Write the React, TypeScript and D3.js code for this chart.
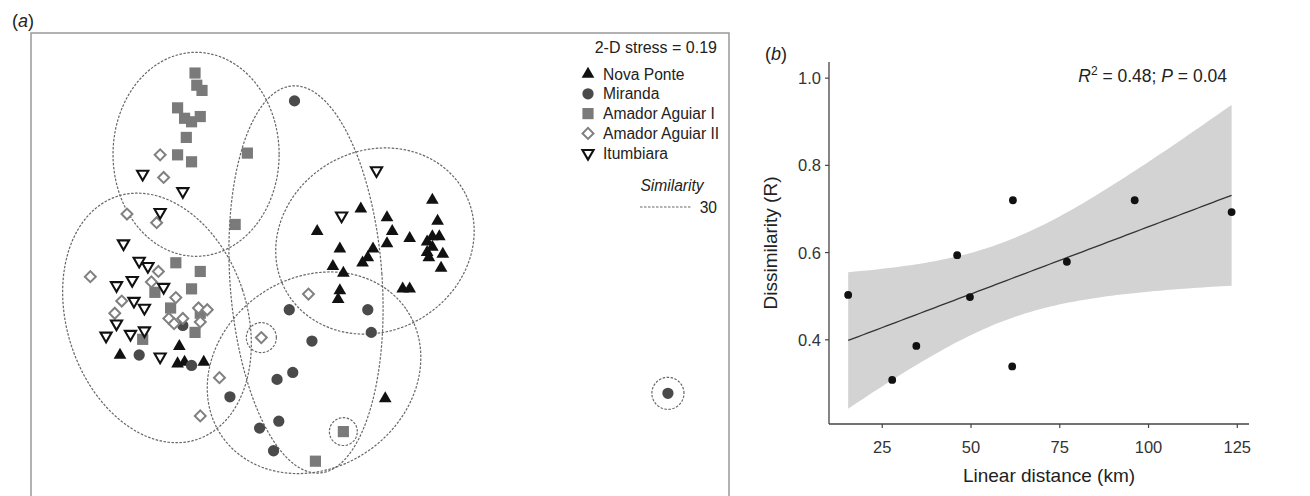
import React from "react";
import * as d3 from "d3";

// ---------- Panel (a): NMDS ordination (MDS1, MDS2) ----------
const novaPonte: [number, number][] = [
  [-1.49, -0.52], [-1.15, -0.47], [-1.16, -0.57], [-1.12, -0.56], [-1.01, -0.56],
  [0.30, 0.37], [-0.11, 0.32], [0.04, 0.27], [0.33, 0.25], [-0.36, 0.19],
  [0.07, 0.19], [0.17, 0.15], [0.30, 0.16], [0.34, 0.16], [0.27, 0.13],
  [0.30, 0.10], [0.27, 0.07], [0.28, 0.04], [0.36, 0.06], [0.04, 0.12],
  [-0.23, 0.09], [-0.04, 0.09], [-0.07, 0.04], [-0.10, 0.01], [0.35, -0.02],
  [-0.27, -0.01], [-0.21, -0.05], [0.13, -0.14], [0.17, -0.14], [-0.23, -0.15],
  [-0.24, -0.20], [0.03, -0.77],
];
const miranda: [number, number][] = [
  [-0.49, 0.94], [-1.13, -0.35], [-1.38, -0.52], [-1.08, -0.58], [-0.52, -0.26],
  [-0.07, -0.26], [-0.05, -0.39], [-0.39, -0.44], [-0.50, -0.62], [-0.59, -0.66],
  [-0.86, -0.76], [-0.58, -0.90], [-0.69, -0.94], [-0.61, -1.07], [1.65, -0.74],
];
const amadorAguiarI: [number, number][] = [
  [-1.06, 1.10], [-1.05, 1.03], [-1.02, 1.00], [-1.16, 0.90], [-1.12, 0.84],
  [-1.08, 0.82], [-1.03, 0.85], [-1.11, 0.73], [-1.16, 0.63], [-1.08, 0.59],
  [-0.76, 0.64], [-0.83, 0.23], [-1.17, 0.01], [-1.03, -0.04], [-1.29, -0.16],
  [-1.08, -0.14], [-1.20, -0.25], [-1.03, -0.28], [-1.06, -0.39], [-1.36, -0.43],
  [-0.21, -0.96], [-0.37, -1.13],
];
const amadorAguiarII: [number, number][] = [
  [-1.26, 0.63], [-1.24, 0.50], [-1.45, 0.29], [-1.28, 0.24], [-1.66, -0.07],
  [-1.27, -0.04], [-1.31, -0.10], [-1.48, -0.21], [-1.17, -0.19], [-1.52, -0.28],
  [-1.21, -0.31], [-1.18, -0.34], [-1.13, -0.31], [-1.04, -0.25], [-0.99, -0.26],
  [-1.03, -0.33], [-0.41, -0.17], [-0.68, -0.42], [-0.92, -0.65], [-1.03, -0.87],
];
const itumbiara: [number, number][] = [
  [-1.36, 0.52], [-1.13, 0.42], [-1.26, 0.30], [-1.47, 0.12], [-1.38, 0.02],
  [-1.33, -0.01], [-1.42, -0.09], [-1.51, -0.12], [-1.24, -0.13], [-1.41, -0.21],
  [-1.35, -0.25], [-1.51, -0.34], [-1.57, -0.41], [-1.43, -0.40], [-1.35, -0.38],
  [-1.26, -0.53], [-0.02, 0.54], [-0.22, 0.28],
];
// similarity 30% contours: centre, radii, angle (deg)
const contourCx = [-1.054, -0.424, -1.278, -0.029, -0.378, -0.68, -0.21, 1.65];
const contourCy = [0.633, -0.086, -0.307, 0.135, -0.622, -0.42, -0.96, -0.74];
const contourRx = [0.476, 0.436, 0.516, 0.585, 0.642, 0.086, 0.080, 0.092];
const contourRy = [0.586, 1.115, 0.735, 0.517, 0.546, 0.086, 0.080, 0.092];
const contourAngle = [0, 4, 18, 30, 35, 0, 0, 0];

const groupNames = ["Nova Ponte", "Miranda", "Amador Aguiar I", "Amador Aguiar II", "Itumbiara"];

// ---------- Panel (b): regression ----------
const distanceKm = [15.4, 27.8, 34.6, 46.1, 49.7, 61.6, 61.8, 77.0, 96.1, 123.4];
const dissimilarity = [0.503, 0.308, 0.386, 0.594, 0.498, 0.339, 0.72, 0.579, 0.72, 0.693];
const xTicksB = [25, 50, 75, 100, 125];
const yTicksB = [0.4, 0.6, 0.8, 1.0];

const FONT = "'Liberation Sans', Arial, Helvetica, sans-serif";

const xN = d3.scaleLinear().domain([-2, 2]).range([31, 729]);
const yN = d3.scaleLinear().domain([-1.33, 1.33]).range([496, 33]);

const xB = d3.scaleLinear().domain([10, 128.3]).range([829, 1249]);
const yB = d3.scaleLinear().domain([0.207, 1.037]).range([424, 62]);

type Style = { path: string; fill: string; stroke: string; sw: number; rot: number };
const symStyles: Style[] = [
  { path: d3.symbol(d3.symbolTriangle, 70)()!, fill: "#111", stroke: "none", sw: 0, rot: 0 },
  { path: d3.symbol(d3.symbolCircle, 100)()!, fill: "#4a4a4a", stroke: "none", sw: 0, rot: 0 },
  { path: d3.symbol(d3.symbolSquare, 125)()!, fill: "#7a7a7a", stroke: "none", sw: 0, rot: 0 },
  { path: d3.symbol(d3.symbolSquare, 60)()!, fill: "#fff", stroke: "#808080", sw: 2, rot: 45 },
  { path: d3.symbol(d3.symbolTriangle, 54)()!, fill: "#fff", stroke: "#111", sw: 2.1, rot: 180 },
];
const groups = [novaPonte, miranda, amadorAguiarI, amadorAguiarII, itumbiara];

function ellipsePath(i: number) {
  const a = (contourAngle[i] * Math.PI) / 180;
  const pts: [number, number][] = d3.range(0, 121).map((k) => {
    const t = (k / 120) * 2 * Math.PI;
    const lx = contourRx[i] * Math.cos(t);
    const ly = contourRy[i] * Math.sin(t);
    return [contourCx[i] + lx * Math.cos(a) - ly * Math.sin(a), contourCy[i] + lx * Math.sin(a) + ly * Math.cos(a)];
  });
  return d3.line<[number, number]>().x((p) => xN(p[0])).y((p) => yN(p[1]))(pts)!;
}

// regression fit and 95% CI (as geom_smooth lm)
const n = distanceKm.length;
const mx = d3.mean(distanceKm)!;
const my = d3.mean(dissimilarity)!;
const sxx = d3.sum(distanceKm, (x) => (x - mx) ** 2);
const sxy = d3.sum(distanceKm.map((x, i) => (x - mx) * (dissimilarity[i] - my)));
const slope = sxy / sxx;
const icpt = my - slope * mx;
const sse = d3.sum(distanceKm.map((x, i) => (dissimilarity[i] - (icpt + slope * x)) ** 2));
const se = Math.sqrt(sse / (n - 2));
const tCrit = 2.306; // t(0.975, df = 8)
const xMin = d3.min(distanceKm)!;
const xMax = d3.max(distanceKm)!;
const grid = d3.range(0, 81).map((k) => xMin + ((xMax - xMin) * k) / 80);
const band = grid.map((x) => {
  const yh = icpt + slope * x;
  const h = tCrit * se * Math.sqrt(1 / n + (x - mx) ** 2 / sxx);
  return { x, lo: yh - h, hi: yh + h, yh };
});
const bandPath = d3.area<{ x: number; lo: number; hi: number }>().x((d) => xB(d.x)).y0((d) => yB(d.lo)).y1((d) => yB(d.hi))(band)!;
const fitPath = d3.line<{ x: number; yh: number }>().x((d) => xB(d.x)).y((d) => yB(d.yh))(band)!;

export default function App() {
  const legendY = d3.range(5).map((i) => 74 + i * 19.8);
  return (
    <svg width={1310} height={496} style={{ position: "absolute", left: 0, top: 0, background: "#fff" }} fontFamily={FONT}>
      {/* Panel a */}
      <text x={12} y={27} fontSize={18} fill="#222">(<tspan fontStyle="italic">a</tspan>)</text>
      <rect x={31} y={33} width={698} height={480} fill="none" stroke="#999" strokeWidth={1.5} />
      {contourCx.map((_, i) => (
        <path key={"e" + i} d={ellipsePath(i)} fill="none" stroke="#666" strokeWidth={1.2} strokeDasharray="2.5,1.5" />
      ))}
      {groups.map((g, gi) =>
        g.map((p, k) => (
          <path
            key={gi + "-" + k}
            d={symStyles[gi].path}
            transform={`translate(${xN(p[0])},${yN(p[1])}) rotate(${symStyles[gi].rot})`}
            fill={symStyles[gi].fill}
            stroke={symStyles[gi].stroke}
            strokeWidth={symStyles[gi].sw}
          />
        ))
      )}
      <text x={717} y={52.5} textAnchor="end" fontSize={16} fill="#222">2-D stress = 0.19</text>
      {groupNames.map((name, i) => (
        <g key={name}>
          <path
            d={symStyles[i].path}
            transform={`translate(588,${legendY[i]}) rotate(${symStyles[i].rot})`}
            fill={symStyles[i].fill}
            stroke={symStyles[i].stroke}
            strokeWidth={symStyles[i].sw}
          />
          <text x={603} y={legendY[i] + 5.5} fontSize={15.6} fill="#222">{name}</text>
        </g>
      ))}
      <text x={672} y={191} textAnchor="middle" fontSize={15.6} fontStyle="italic" fill="#222">Similarity</text>
      <line x1={640} x2={692} y1={207} y2={207} stroke="#666" strokeWidth={1.2} strokeDasharray="2.5,1.5" />
      <text x={717} y={212.5} textAnchor="end" fontSize={15.6} fill="#222">30</text>

      {/* Panel b */}
      <text x={765} y={60} fontSize={18} fill="#222">(<tspan fontStyle="italic">b</tspan>)</text>
      <path d={bandPath} fill="#d3d3d3" />
      <path d={fitPath} fill="none" stroke="#333" strokeWidth={1.3} />
      {distanceKm.map((x, i) => (
        <circle key={"b" + i} cx={xB(x)} cy={yB(dissimilarity[i])} r={3.9} fill="#111" />
      ))}
      <line x1={829} x2={829} y1={62} y2={424} stroke="#444" strokeWidth={1.3} />
      <line x1={829} x2={1249} y1={424} y2={424} stroke="#444" strokeWidth={1.3} />
      {yTicksB.map((t) => (
        <g key={"yt" + t}>
          <line x1={825} x2={829} y1={yB(t)} y2={yB(t)} stroke="#444" strokeWidth={1.2} />
          <text x={821} y={yB(t) + 6} textAnchor="end" fontSize={16.5} fill="#333">{t.toFixed(1)}</text>
        </g>
      ))}
      {xTicksB.map((t) => (
        <g key={"xt" + t}>
          <line x1={xB(t)} x2={xB(t)} y1={424} y2={428} stroke="#444" strokeWidth={1.2} />
          <text x={xB(t)} y={453} textAnchor="middle" fontSize={16.5} fill="#333">{t}</text>
        </g>
      ))}
      <text x={1049} y={482} textAnchor="middle" fontSize={19} fill="#222">Linear distance (km)</text>
      <text transform="translate(777,243) rotate(-90)" textAnchor="middle" fontSize={19} fill="#222">Dissimilarity (R)</text>
      <text x={1227} y={82} textAnchor="end" fontSize={17.5} fill="#222">
        <tspan fontStyle="italic">R</tspan>
        <tspan fontSize={12} dy={-7}>2</tspan>
        <tspan dy={7}> = 0.48; </tspan>
        <tspan fontStyle="italic">P</tspan>
        <tspan> = 0.04</tspan>
      </text>
    </svg>
  );
}
